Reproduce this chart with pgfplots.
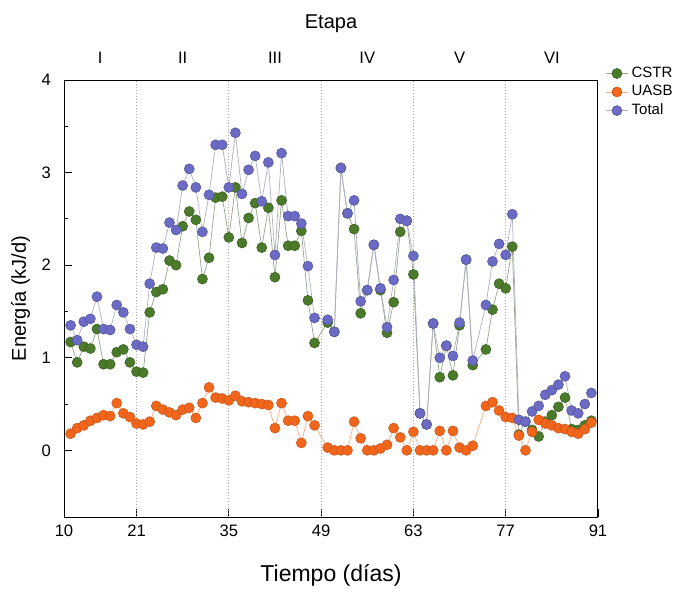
\documentclass[border=0pt]{standalone}
\usepackage{pgfplots}
\pgfplotsset{compat=1.18}
\usepackage{pgfplotstable}
\usepackage{fontspec}
\setmainfont{Liberation Sans}
\definecolor{cgreen}{HTML}{4A7A2A}
\definecolor{corange}{HTML}{F2661C}
\definecolor{cblue}{HTML}{6B6BC6}
\pgfplotstableread{
d C U T
11 1.17 0.18 1.35
12 0.95 0.24 1.19
13 1.12 0.27 1.39
14 1.10 0.32 1.42
15 1.31 0.35 1.66
16 0.93 0.38 1.31
17 0.93 0.37 1.30
18 1.06 0.51 1.57
19 1.09 0.40 1.49
20 0.95 0.36 1.31
21 0.85 0.29 1.14
22 0.84 0.28 1.12
23 1.49 0.31 1.80
24 1.71 0.48 2.19
25 1.74 0.44 2.18
26 2.05 0.41 2.46
27 2.00 0.38 2.38
28 2.42 0.44 2.86
29 2.58 0.46 3.04
30 2.49 0.35 2.84
31 1.85 0.51 2.36
32 2.08 0.68 2.76
33 2.73 0.57 3.30
34 2.74 0.56 3.30
35 2.30 0.54 2.84
36 2.84 0.59 3.43
37 2.24 0.53 2.77
38 2.51 0.52 3.03
39 2.67 0.51 3.18
40 2.19 0.50 2.69
41 2.62 0.49 3.11
42 1.87 0.24 2.11
43 2.70 0.51 3.21
44 2.21 0.32 2.53
45 2.21 0.32 2.53
46 2.37 0.08 2.45
47 1.62 0.37 1.99
48 1.16 0.27 1.43
50 1.38 0.03 1.41
51 1.28 0.00 1.28
52 3.05 0.00 3.05
53 2.56 0.00 2.56
54 2.39 0.31 2.70
55 1.48 0.13 1.61
56 1.73 0.00 1.73
57 2.22 0.00 2.22
58 1.73 0.02 1.75
59 1.27 0.06 1.33
60 1.60 0.24 1.84
61 2.36 0.14 2.50
62 2.48 0.00 2.48
63 1.90 0.20 2.10
64 0.40 0.00 0.40
65 0.28 0.00 0.28
66 1.37 0.00 1.37
67 0.79 0.21 1.00
68 1.13 0.00 1.13
69 0.81 0.21 1.02
70 1.35 0.03 1.38
71 2.06 0.00 2.06
72 0.92 0.05 0.97
74 1.09 0.48 1.57
75 1.52 0.52 2.04
76 1.80 0.43 2.23
77 1.75 0.36 2.11
78 2.20 0.35 2.55
79 0.17 0.16 0.33
80 0.31 0.00 0.31
81 0.22 0.20 0.42
82 0.15 0.33 0.48
83 0.31 0.29 0.60
84 0.38 0.27 0.65
85 0.47 0.24 0.71
86 0.57 0.23 0.80
87 0.23 0.20 0.43
88 0.22 0.18 0.40
89 0.27 0.23 0.50
90 0.32 0.30 0.62
}\data
\begin{document}
\begin{tikzpicture}
\begin{axis}[name=ax,
  scale only axis, width=267pt, height=218.5pt,
  xmin=10, xmax=91, ymin=-0.72, ymax=4,
  xtick={10,21,35,49,63,77,91},
  ytick={0,1,2,3,4},
  minor y tick num=1,
  minor x tick num=1,
  xtick pos=bottom, ytick pos=left,
  tick align=inside,
  major tick length=4pt, minor tick length=2pt,
  tick style={black, line width=0.4pt},
  axis line style={line width=0.5pt},
  /pgf/number format/assume math mode=true,
  tick label style={font=\fontsize{8.3}{10}\selectfont},
  yticklabel style={xshift=-3pt},
  xticklabel style={yshift=-0.5pt},
  xlabel={Tiempo (días)}, ylabel={Energía (kJ/d)},
  xlabel style={font=\fontsize{11.5}{13}\selectfont, yshift=-7pt},
  ylabel style={font=\fontsize{10}{12}\selectfont, yshift=-1pt},
  legend style={at={(1.009,1.045)}, anchor=north west, draw=none, fill=none,
     font=\fontsize{7.5}{9}\selectfont, row sep=-1.5pt, inner sep=1pt,
     nodes={inner xsep=1.5pt}},
  legend image code/.code={%
    \draw[mark repeat=2,mark phase=2,#1] plot coordinates {(0cm,0cm) (0.2cm,0cm) (0.4cm,0cm)};},
  legend cell align=left,
  every axis plot/.append style={line width=0.35pt, mark=*, mark size=2.5pt},
]
\pgfplotsinvokeforeach{21,35,49,63,77}{
  \draw[densely dotted, gray!70, line width=0.5pt] (axis cs:#1,-0.72) -- (axis cs:#1,4);
}
\addplot[color=cgreen!45!gray!70, mark options={fill=cgreen, draw=cgreen!80!black, line width=0.3pt}] table[x=d,y=C] {\data};
\addlegendentry{CSTR}
\addplot[color=corange!55!white, mark options={fill=corange, draw=corange!85!black, line width=0.3pt}] table[x=d,y=U] {\data};
\addlegendentry{UASB}
\addplot[color=cblue!40!gray!60, mark options={fill=cblue, draw=cblue!80!black, line width=0.3pt}] table[x=d,y=T] {\data};
\addlegendentry{Total}
\end{axis}
\begin{axis}[
  at={(ax.south west)}, anchor=south west,
  scale only axis, width=267pt, height=218.5pt,
  xmin=10, xmax=91, ymin=0, ymax=1,
  axis x line*=top, axis y line=none,
  xtick={15.5,28,42,56,70,84},
  xticklabels={I,II,III,IV,V,VI},
  tick align=inside, major tick length=0pt,
  tick label style={font=\fontsize{8.3}{10}\selectfont},
  xticklabel style={yshift=4.5pt},
  xlabel={Etapa},
  xlabel style={yshift=3pt},
  label style={font=\fontsize{10}{12}\selectfont},
]
\end{axis}
\pgfresetboundingbox
\path (ax.south west) ++(-32pt,-37pt) rectangle ++(345pt,295.5pt);
\end{tikzpicture}
\end{document}
